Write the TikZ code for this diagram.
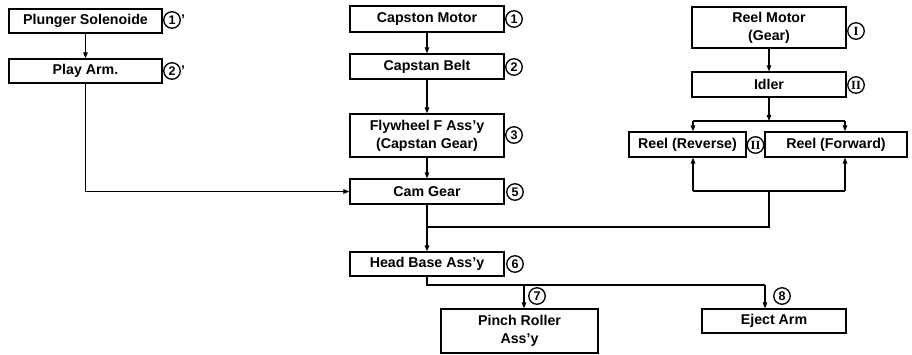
\documentclass[tikz,border=0pt]{standalone}
\usepackage{fontspec}
\setmainfont{Liberation Sans}
\newfontfamily\serifnum{Liberation Serif}
\usetikzlibrary{arrows.meta,calc}
\tikzset{
  box/.style={draw,line width=1.2pt,rectangle,inner sep=1pt,align=center,
    font=\bfseries\fontsize{14.2}{18}\selectfont},
  arr/.style={line width=1.1pt,-{Triangle[length=6pt,width=4.5pt]}},
  ln/.style={line width=1.1pt},
  cnum/.style={draw,circle,line width=1.3pt,inner sep=0pt,minimum size=16.5pt,
    font=\bfseries\fontsize{12.5}{12.5}\selectfont},
  rnum/.style={draw,circle,line width=1.3pt,inner sep=0pt,minimum size=16.5pt,
    font=\serifnum\bfseries\fontsize{12.5}{12.5}\selectfont},
  prm/.style={label={[inner sep=0pt,xshift=0pt,yshift=0pt,font=\bfseries\fontsize{14}{14}\selectfont]east:{'}}}
}
\begin{document}
\begin{tikzpicture}[x=1pt,y=-1pt]
\useasboundingbox (0,0) rectangle (912,354);
% left column
\node[box,minimum width=153pt,minimum height=24pt] (ps) at (85.5,21) {Plunger Solenoide};
\node[box,minimum width=153pt,minimum height=24pt] (pa) at (85.5,71) {Play Arm.};
% middle column
\node[box,minimum width=154pt,minimum height=26pt] (cm) at (427,19) {Capston Motor};
\node[box,minimum width=154pt,minimum height=25pt] (cb) at (427,66.5) {Capstan Belt};
\node[box,minimum width=154pt,minimum height=43pt] (fw) at (427,135.5) {Flywheel F Ass'y\\(Capstan Gear)};
\node[box,minimum width=154pt,minimum height=25pt] (cg) at (427,191.5) {Cam Gear};
\node[box,minimum width=154pt,minimum height=24pt] (hb) at (427,264) {Head Base Ass'y};
\node[box,minimum width=157pt,minimum height=44pt] (pr) at (519.5,331) {Pinch Roller\\Ass'y};
\node[box,minimum width=144pt,minimum height=24pt] (ea) at (774,321) {Eject Arm};
% right column
\node[box,minimum width=154pt,minimum height=41pt] (rm) at (769,27.5) {Reel Motor\\(Gear)};
\node[box,minimum width=154pt,minimum height=25pt] (id) at (769,84.5) {Idler};
\node[box,minimum width=117pt,minimum height=25pt] (rr) at (687.5,144.5) {Reel (Reverse)};
\node[box,minimum width=142pt,minimum height=25pt] (rf) at (836,144.5) {Reel (Forward)};
% circled labels
\node[cnum,prm] (n1p) at (172,20) {1};
\node[cnum,prm] (n2p) at (172,71) {2};
\node[cnum] (n1) at (514,19) {1};
\node[cnum] (n2) at (514,67) {2};
\node[cnum] (n3) at (514,135) {3};
\node[cnum] (n5) at (515,192) {5};
\node[cnum] (n6) at (515,264) {6};
\node[cnum] (n7) at (537,296) {7};
\node[cnum] (n8) at (782,296) {8};
\node[rnum] (r1) at (856,31) {I};
\node[rnum] (r2) at (856,85) {II};
\node[rnum] (r3) at (755.5,145) {II};
% connectors
\draw[arr] (ps) -- (pa);
\draw[arr] (pa.south) |- (cg.west);
\draw[arr] (cm) -- (cb);
\draw[arr] (cb) -- (fw);
\draw[arr] (fw) -- (cg);
\draw[arr] (cg) -- (hb);
\draw[arr] (rm) -- (id);
\coordinate (sp) at (769,121);
\coordinate (sl) at (693,121);
\coordinate (sr) at (845,121);
\draw[arr] (id.south) -- (sp);
\draw[ln] (sl) -- (sr);
\draw[arr] (sl) -- (sl |- rr.north);
\draw[arr] (sr) -- (sr |- rf.north);
\coordinate (bl) at (693,191);
\coordinate (br) at (845,191);
\coordinate (bm) at (769,191);
\coordinate (cj) at (427,227);
\draw[ln] (cj) -| (bm);
\draw[ln] (bl) -- (br);
\draw[arr] (bl) -- (bl |- rr.south);
\draw[arr] (br) -- (br |- rf.south);
\coordinate (hp) at (524,285);
\coordinate (he) at (765,285);
\draw[ln] (hb.south) |- (he);
\draw[arr] (hp) -- (hp |- pr.north);
\draw[arr] (he) -- (he |- ea.north);
\end{tikzpicture}
\end{document}
